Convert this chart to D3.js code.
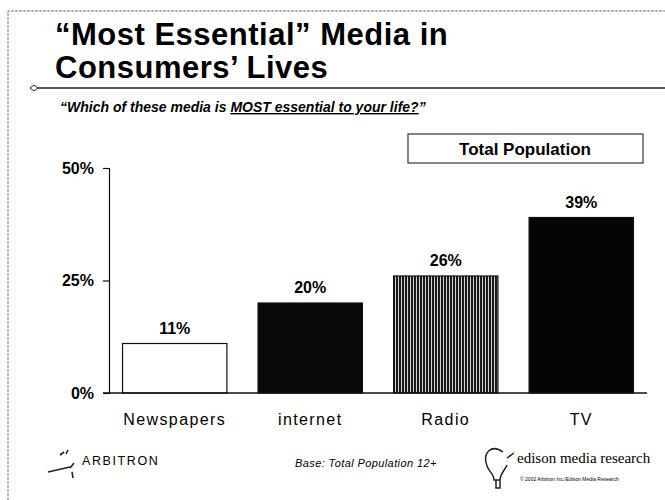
<!DOCTYPE html>
<html>
<head>
<meta charset="utf-8">
<script src="https://cdn.jsdelivr.net/npm/d3@7"></script>
<style>
  body { margin: 0; background: #fff; }
  svg { display: block; font-family: "Liberation Sans", Arial, sans-serif; }
</style>
</head>
<body>
<svg></svg>
<script>
// chart data
var categories = ["Newspapers", "internet", "Radio", "TV"];
var shares = [11, 20, 26, 39];
var tickValues = [0, 25, 50];

document.addEventListener("DOMContentLoaded", function() {

  var width = 665;
  var height = 500;

  var svg = d3.select("svg")
      .attr("width", width)
      .attr("height", height);

  var defs = svg.append("defs");

  // radio bar: fine vertical stripes
  var stripes = defs.append("pattern")
      .attr("id", "stripes")
      .attr("patternUnits", "userSpaceOnUse")
      .attr("width", 3)
      .attr("height", 4);
  stripes.append("rect").attr("width", 3).attr("height", 4).attr("fill", "#1a1a1a");
  stripes.append("rect").attr("x", 2).attr("width", 1).attr("height", 4).attr("fill", "#d0d0d0");

  // slide frame
  svg.append("path")
      .attr("d", "M8,500 V11 H665")
      .attr("fill", "none")
      .attr("stroke", "#777")
      .attr("stroke-width", 1)
      .attr("stroke-dasharray", "3,1");

  // title
  var title = svg.append("text")
      .attr("x", 55)
      .attr("y", 45)
      .style("font-size", "31px")
      .style("font-weight", "bold")
      .style("letter-spacing", "0.5px");
  title.append("tspan").attr("x", 55).text("\u201cMost Essential\u201d Media in");
  title.append("tspan").attr("x", 55).attr("dy", 33).text("Consumers\u2019 Lives");

  svg.append("line")
      .attr("x1", 34).attr("x2", 665)
      .attr("y1", 88).attr("y2", 88)
      .attr("stroke", "#222")
      .attr("stroke-width", 1.3);
  svg.append("path")
      .attr("d", "M30,88 L34,85 L38,88 L34,91 Z")
      .attr("fill", "#fff")
      .attr("stroke", "#222");

  var sub = svg.append("text")
      .attr("x", 60)
      .attr("y", 112)
      .style("font-size", "14px")
      .style("font-weight", "bold")
      .style("font-style", "italic");
  sub.append("tspan").text("\u201cWhich of these media is ");
  sub.append("tspan").style("text-decoration", "underline").text("MOST essential to your life?");
  sub.append("tspan").text("\u201d");

  // legend box
  svg.append("rect")
      .attr("x", 408).attr("y", 134)
      .attr("width", 235).attr("height", 29)
      .attr("fill", "#fff")
      .attr("stroke", "#333")
      .attr("stroke-width", 1.2);
  svg.append("text")
      .attr("x", 525)
      .attr("y", 155)
      .attr("text-anchor", "middle")
      .style("font-size", "17px")
      .style("font-weight", "bold")
      .text("Total Population");

  // scales
  var xScale = d3.scaleBand()
      .domain(categories)
      .range([109, 647])
      .paddingInner(0.23)
      .paddingOuter(0.1);

  var yScale = d3.scaleLinear()
      .domain([0, 50])
      .range([393, 168]);

  var fillScale = d3.scaleOrdinal()
      .domain(categories)
      .range(["#fff", "#080808", "url(#stripes)", "#050505"]);

  // y axis
  var yAxis = d3.axisLeft(yScale)
      .tickValues(tickValues)
      .tickSize(6)
      .tickPadding(9)
      .tickFormat(d => d + "%");

  var yg = svg.append("g")
      .attr("transform", "translate(109,0)")
      .call(yAxis);
  yg.select(".domain").attr("stroke", "#111").attr("stroke-width", 1.2);
  yg.selectAll(".tick line").attr("stroke", "#111").attr("stroke-width", 1.2);
  yg.selectAll(".tick text")
      .attr("fill", "#000")
      .style("font-size", "16px")
      .style("font-weight", "bold")
      .style("font-family", "'Liberation Sans', Arial, sans-serif");

  // bars
  svg.selectAll("rect.bar")
      .data(shares)
      .enter()
      .append("rect")
        .attr("class", "bar")
        .attr("x", (d, i) => xScale(categories[i]))
        .attr("y", d => yScale(d))
        .attr("width", xScale.bandwidth())
        .attr("height", d => yScale(0) - yScale(d))
        .attr("fill", (d, i) => fillScale(categories[i]))
        .attr("stroke", "#111")
        .attr("stroke-width", 1.2);

  // x axis baseline
  svg.append("line")
      .attr("x1", 103).attr("x2", 647)
      .attr("y1", yScale(0)).attr("y2", yScale(0))
      .attr("stroke", "#111")
      .attr("stroke-width", 1.6);

  // value labels
  svg.selectAll("text.value")
      .data(shares)
      .enter()
      .append("text")
        .attr("class", "value")
        .attr("x", (d, i) => xScale(categories[i]) + xScale.bandwidth() / 2)
        .attr("y", d => yScale(d) - 10)
        .attr("text-anchor", "middle")
        .style("font-size", "16px")
        .style("font-weight", "bold")
        .text(d => d + "%");

  // category labels
  svg.selectAll("text.cat")
      .data(categories)
      .enter()
      .append("text")
        .attr("class", "cat")
        .attr("x", d => xScale(d) + xScale.bandwidth() / 2)
        .attr("y", 425)
        .attr("text-anchor", "middle")
        .style("font-size", "16px")
        .style("letter-spacing", "1.4px")
        .text(d => d);

  // footer: arbitron
  svg.append("path")
      .attr("d", "M48,472 L70,467 M70,468 L74,463 M72,472 L73,478 M60,455 L64,452 M66,454 L68,450")
      .attr("stroke", "#222")
      .attr("stroke-width", 1.6)
      .attr("fill", "none");
  svg.append("text")
      .attr("x", 82)
      .attr("y", 465)
      .style("font-size", "12.5px")
      .style("letter-spacing", "1.6px")
      .text("ARBITRON");

  svg.append("text")
      .attr("x", 295)
      .attr("y", 467)
      .style("font-size", "11px")
      .style("font-style", "italic")
      .style("letter-spacing", "0.4px")
      .text("Base: Total Population 12+");

  // footer: edison
  svg.append("path")
      .attr("d", "M503,452 C492,444 482,452 487,466 C489,472 494,474 494,480 L500,480 C500,474 505,470 507,465 M496,480 L496,488 L500,488 L500,480 M507,458 L514,453")
      .attr("stroke", "#222")
      .attr("stroke-width", 1.5)
      .attr("fill", "none");
  svg.append("text")
      .attr("x", 517)
      .attr("y", 463)
      .style("font-family", "'Liberation Serif', 'Times New Roman', serif")
      .style("font-size", "15px")
      .text("edison media research");
  svg.append("text")
      .attr("x", 520)
      .attr("y", 481)
      .style("font-size", "5px")
      .text("\u00a9 2002 Arbitron Inc./Edison Media Research");
});
</script>
</body>
</html>
